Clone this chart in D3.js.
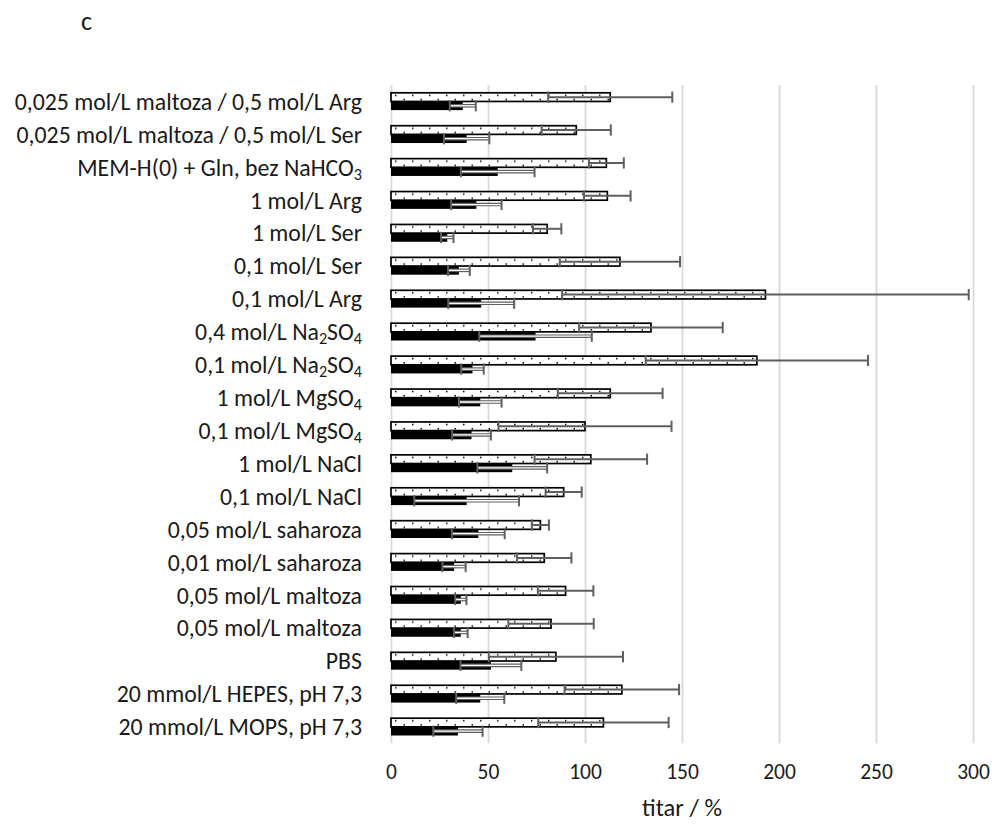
<!DOCTYPE html>
<html>
<head>
<meta charset="utf-8">
<script src="https://cdn.jsdelivr.net/npm/d3@7"></script>
<style>
  html, body { margin: 0; padding: 0; background: #fff; }
  svg { display: block; }
  svg text { font-family: Carlito, Lato, "Liberation Sans", sans-serif; }
</style>
</head>
<body>
<svg id="chart" width="992" height="825"></svg>
<script>
// ---- data (top to bottom) ----
const categories = [
  "0,025 mol/L maltoza / 0,5 mol/L Arg",
  "0,025 mol/L maltoza / 0,5 mol/L Ser",
  "MEM-H(0) + Gln, bez NaHCO₃",
  "1 mol/L Arg",
  "1 mol/L Ser",
  "0,1 mol/L Ser",
  "0,1 mol/L Arg",
  "0,4 mol/L Na₂SO₄",
  "0,1 mol/L Na₂SO₄",
  "1 mol/L MgSO₄",
  "0,1 mol/L MgSO₄",
  "1 mol/L NaCl",
  "0,1 mol/L NaCl",
  "0,05 mol/L saharoza",
  "0,01 mol/L saharoza",
  "0,05 mol/L maltoza",
  "0,05 mol/L maltoza",
  "PBS",
  "20 mmol/L HEPES, pH 7,3",
  "20 mmol/L MOPS, pH 7,3"
];
const dottedValues = [113, 95.5, 111, 111.5, 80.5, 118, 193, 134, 188.6, 113, 100, 103, 89, 77, 79, 90, 82.5, 85, 119, 109.5];
const dottedErrors = [32, 17.8, 9, 12, 7.3, 31, 104.8, 37, 57.3, 27, 44.6, 29, 9.3, 4.4, 14, 14.3, 22, 34.6, 29.5, 33.6];
const blackValues  = [37, 39, 55, 44, 29, 35, 46.5, 74.5, 42, 46, 41.5, 62.5, 39, 45, 32.5, 36, 36, 51.5, 46, 34.5];
const blackErrors  = [6.7, 11.7, 19, 13, 3.2, 5.6, 17, 29, 5.8, 11, 10, 18, 27, 13.6, 6, 2.9, 3.5, 15.7, 12.4, 12.7];
const xTicks = [0, 50, 100, 150, 200, 250, 300];
const xTitle = "titar / %";
const panelLabel = "c";

// ---- layout ----
const FONT = "Carlito, Lato, 'Liberation Sans', sans-serif";
const svg = d3.select("#chart");
const plotTop = 85, plotBottom = 743.3;
const x = d3.scaleLinear().domain([0, 300]).range([391, 973]);
const y = d3.scaleBand().domain(d3.range(categories.length)).range([plotTop, plotBottom])
  .paddingInner(0.474).paddingOuter(0.237);
const sub = d3.scaleBand().domain(["dotted", "black"]).range([0, y.bandwidth()]);

const textColor = "#1a1a1a";
const errColor = "#5f5f5f";

// dotted pattern
const defs = svg.append("defs");
const pat = defs.append("pattern")
  .attr("id", "dots")
  .attr("patternUnits", "userSpaceOnUse")
  .attr("x", x(0)).attr("y", y(0))
  .attr("width", 17).attr("height", y.step());
pat.append("rect").attr("width", 17).attr("height", y.step()).attr("fill", "#fff");
pat.append("rect").attr("x", 4).attr("y", 1.8).attr("width", 1.5).attr("height", 1.5).attr("fill", "#000");
pat.append("rect").attr("x", 12.5).attr("y", 6.0).attr("width", 1.5).attr("height", 1.5).attr("fill", "#000");

// gridlines
const grid = svg.append("g")
  .attr("transform", `translate(0,${plotBottom})`)
  .call(d3.axisBottom(x).tickValues(xTicks).tickSize(-(plotBottom - plotTop)).tickFormat(""));
grid.select(".domain").remove();
grid.selectAll(".tick line").attr("stroke", "#d9d9d9").attr("stroke-width", 1.8);

// x tick labels
const xa = svg.append("g")
  .attr("transform", `translate(0,${plotBottom})`)
  .call(d3.axisBottom(x).tickValues(xTicks).tickSize(0).tickPadding(20));
xa.attr("font-family", FONT).attr("font-size", 21.5);
xa.select(".domain").remove();
xa.selectAll("text").attr("fill", textColor);

// x title
svg.append("text").attr("x", (x(0) + x(300)) / 2).attr("y", 816)
  .attr("text-anchor", "middle").attr("font-size", 24.5).attr("fill", textColor)
  .text(xTitle);

// panel label
svg.append("text").attr("x", 81).attr("y", 30).attr("font-size", 26).attr("fill", textColor).text(panelLabel);

// y labels with subscripts
const subMap = {"₀":"0","₁":"1","₂":"2","₃":"3","₄":"4","₅":"5","₆":"6","₇":"7","₈":"8","₉":"9"};
const ya = svg.append("g").attr("transform", `translate(362,0)`)
  .call(d3.axisLeft(y).tickSize(0).tickPadding(0).tickFormat(() => ""));
ya.attr("font-family", FONT).attr("font-size", 23.8);
ya.select(".domain").remove();
ya.selectAll(".tick text").each(function(i) {
  const t = d3.select(this).attr("fill", textColor).attr("dy", "0.35em");
  const label = categories[i];
  let buf = "", isSub = false;
  const flush = () => {
    if (!buf) return;
    const ts = t.append("tspan").text(buf);
    if (isSub) ts.attr("font-size", "0.68em").attr("baseline-shift", "-0.25em");
    buf = "";
  };
  for (const ch of label) {
    const s = ch in subMap;
    if (s !== isSub) { flush(); isSub = s; }
    buf += s ? subMap[ch] : ch;
  }
  flush();
});

// bars
const rows = categories.map((c, i) => ({ i, dv: dottedValues[i], de: dottedErrors[i], bv: blackValues[i], be: blackErrors[i] }));
const bw = sub.bandwidth();

svg.append("g").selectAll("rect").data(rows).join("rect")
  .attr("x", x(0)).attr("y", d => y(d.i) + sub("dotted"))
  .attr("width", d => x(d.dv) - x(0)).attr("height", bw)
  .attr("fill", "url(#dots)").attr("stroke", "#000").attr("stroke-width", 1.7);

svg.append("g").selectAll("rect").data(rows).join("rect")
  .attr("x", x(0)).attr("y", d => y(d.i) + sub("black"))
  .attr("width", d => x(d.bv) - x(0)).attr("height", bw)
  .attr("fill", "#000");

// error bars
function errBars(key, vKey, eKey, double) {
  const g = svg.append("g");
  rows.forEach(d => {
    const cy = y(d.i) + sub(key) + bw / 2;
    const x1 = x(d[vKey] - d[eKey]), x2 = x(d[vKey] + d[eKey]);
    if (double) {
      g.append("line").attr("x1", x1).attr("x2", x2).attr("y1", cy).attr("y2", cy)
        .attr("stroke", errColor).attr("stroke-width", 3.6);
      g.append("line").attr("x1", x1).attr("x2", x2).attr("y1", cy).attr("y2", cy)
        .attr("stroke", "#fff").attr("stroke-width", 1.3);
    } else {
      g.append("line").attr("x1", x1).attr("x2", x2).attr("y1", cy).attr("y2", cy)
        .attr("stroke", errColor).attr("stroke-width", 2);
    }
    [x1, x2].forEach(xx => g.append("line").attr("x1", xx).attr("x2", xx)
      .attr("y1", cy - 5.6).attr("y2", cy + 5.6)
      .attr("stroke", errColor).attr("stroke-width", 2));
  });
}
errBars("dotted", "dv", "de", false);
errBars("black", "bv", "be", true);
</script>
</body>
</html>
